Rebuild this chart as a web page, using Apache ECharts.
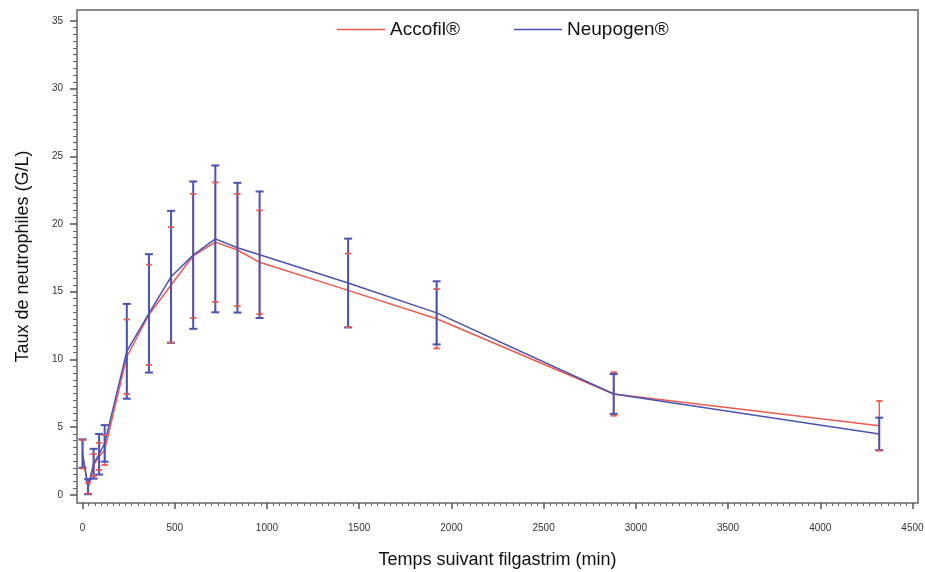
<!DOCTYPE html>
<html>
<head>
<meta charset="utf-8">
<script src="https://cdn.jsdelivr.net/npm/echarts@6/dist/echarts.min.js"></script>
<style>
html,body{margin:0;padding:0;background:#fff;}
#chart{width:925px;height:572px;}
</style>
</head>
<body>
<div id="chart"></div>
<script>
// ---- data ----
const times = [0, 30, 60, 90, 120, 240, 360, 480, 600, 720, 840, 960, 1440, 1920, 2880, 4320];
const accofilMean = [3.0, 0.5, 2.2, 2.85, 3.3, 10.2, 13.3, 15.5, 17.65, 18.66, 18.08, 17.17, 15.1, 13.0, 7.45, 5.1];
const accofilSD   = [1.05, 0.4, 0.8, 1.0, 1.1, 2.75, 3.7, 4.26, 4.58, 4.41, 4.15, 3.83, 2.72, 2.19, 1.6, 1.83];
const neupogenMean = [3.05, 0.6, 2.3, 3.0, 3.8, 10.6, 13.4, 16.1, 17.7, 18.9, 18.25, 17.73, 15.64, 13.44, 7.45, 4.5];
const neupogenSD   = [1.05, 0.55, 1.1, 1.5, 1.35, 3.5, 4.37, 4.87, 5.44, 5.42, 4.79, 4.67, 3.28, 2.33, 1.47, 1.2];
const xTickLabels = [0, 500, 1000, 1500, 2000, 2500, 3000, 3500, 4000, 4500];
const yTickLabels = [0, 5, 10, 15, 20, 25, 30, 35];
const seriesNames = ['Accofil®', 'Neupogen®'];
const xTitle = 'Temps suivant filgastrim (min)';
const yTitle = 'Taux de neutrophiles (G/L)';

// ---- styling ----
const RED = '#ef5a50';
const BLUE = '#4a52b2';
const FONT = 'Liberation Sans, Arial, sans-serif';

function minorTicks(majors, sub) {
  const out = [];
  for (let i = 0; i < majors.length - 1; i++) {
    const a = majors[i], b = majors[i + 1];
    for (let k = 1; k < sub; k++) out.push(a + (b - a) * k / sub);
  }
  return out;
}

const accLine = times.map((t, i) => [t, accofilMean[i]]);
const neuLine = times.map((t, i) => [t, neupogenMean[i]]);
const accErr = times.map((t, i) => [t, accofilMean[i] - accofilSD[i], accofilMean[i] + accofilSD[i]]);
const neuErr = times.map((t, i) => [t, neupogenMean[i] - neupogenSD[i], neupogenMean[i] + neupogenSD[i]]);

function errRender(color, capHalf, width, drawVertical) {
  return function (params, api) {
    const x = api.value(0), lo = api.value(1), hi = api.value(2);
    const pLo = api.coord([x, lo]);
    const pHi = api.coord([x, hi]);
    const style = { stroke: color, lineWidth: width };
    const children = [
      { type: 'line', shape: { x1: pLo[0] - capHalf, y1: pLo[1], x2: pLo[0] + capHalf, y2: pLo[1] }, style: style },
      { type: 'line', shape: { x1: pHi[0] - capHalf, y1: pHi[1], x2: pHi[0] + capHalf, y2: pHi[1] }, style: style }
    ];
    if (drawVertical) {
      children.push({ type: 'line', shape: { x1: pLo[0], y1: pLo[1], x2: pHi[0], y2: pHi[1] }, style: style });
    }
    return { type: 'group', children: children };
  };
}

const chart = echarts.init(document.getElementById('chart'), null, { renderer: 'canvas' });

const xMin = -30, xMax = 4530, yMin = -0.6, yMax = 35.8;

const option = {
  backgroundColor: '#fff',
  animation: false,
  legend: {
    data: seriesNames.map(n => ({ name: n, icon: 'rect' })),
    left: 332,
    top: 15,
    itemWidth: 48,
    itemHeight: 1.5,
    itemGap: 54,
    textStyle: { fontSize: 19, color: '#111', fontFamily: FONT }
  },
  grid: {
    left: 77, right: 7, top: 10, bottom: 69,
    outerBoundsMode: 'none', containLabel: false,
    show: true, borderColor: '#666', borderWidth: 1.5, backgroundColor: 'transparent'
  },
  xAxis: [
    {
      type: 'value', min: xMin, max: xMax,
      name: xTitle, nameLocation: 'middle', nameGap: 48,
      nameTextStyle: { fontSize: 18, color: '#111', fontFamily: FONT },
      axisLine: { show: false, onZero: false },
      splitLine: { show: false },
      axisTick: { show: true, customValues: xTickLabels, length: 6, lineStyle: { color: '#555', width: 1.5 } },
      axisLabel: { show: true, customValues: xTickLabels, margin: 20, fontSize: 10, color: '#333', fontFamily: FONT,
        formatter: v => String(v) }
    },
    {
      type: 'value', min: xMin, max: xMax, position: 'bottom',
      axisLine: { show: false, onZero: false }, splitLine: { show: false },
      axisTick: { show: true, customValues: minorTicks(xTickLabels, 15), length: 3, lineStyle: { color: '#666', width: 1 } },
      axisLabel: { show: false }
    }
  ],
  yAxis: [
    {
      type: 'value', min: yMin, max: yMax,
      name: yTitle, nameLocation: 'middle', nameGap: 45, nameRotate: 90,
      nameTextStyle: { fontSize: 18, color: '#111', fontFamily: FONT },
      axisLine: { show: false, onZero: false },
      splitLine: { show: false },
      axisTick: { show: true, customValues: yTickLabels, length: 7, lineStyle: { color: '#555', width: 1.5 } },
      axisLabel: { show: true, customValues: yTickLabels, margin: 14, fontSize: 10, color: '#333', fontFamily: FONT,
        formatter: v => String(v) }
    },
    {
      type: 'value', min: yMin, max: yMax, position: 'left',
      axisLine: { show: false, onZero: false }, splitLine: { show: false },
      axisTick: { show: true, customValues: minorTicks(yTickLabels, 10), length: 4, lineStyle: { color: '#666', width: 1 } },
      axisLabel: { show: false }
    }
  ],
  series: [
    {
      name: seriesNames[0], type: 'line', data: accLine, symbol: 'none',
      lineStyle: { color: RED, width: 1.5 }, itemStyle: { color: RED }, z: 3
    },
    {
      name: seriesNames[1], type: 'line', data: neuLine, symbol: 'none',
      lineStyle: { color: BLUE, width: 1.5 }, itemStyle: { color: BLUE }, z: 4
    },
    {
      name: 'accErr', type: 'custom', data: accErr, encode: { x: 0, y: [1, 2] },
      renderItem: errRender(RED, 3, 1.5, true), z: 5, silent: true
    },
    {
      name: 'neuErr', type: 'custom', data: neuErr, encode: { x: 0, y: [1, 2] },
      renderItem: errRender(BLUE, 4, 2, true), z: 6, silent: true
    },
    {
      name: 'accCaps', type: 'custom', data: accErr, encode: { x: 0, y: [1, 2] },
      renderItem: errRender(RED, 3, 1.5, false), z: 7, silent: true
    }
  ]
};
chart.setOption(option);
</script>
</body>
</html>
